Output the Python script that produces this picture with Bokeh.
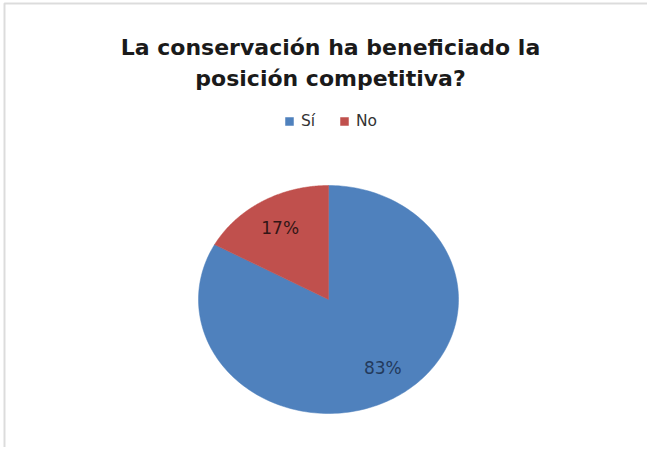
import numpy as np
from bokeh.plotting import figure
from bokeh.models import Range1d, Label, Legend, LegendItem, ColumnDataSource, BoxAnnotation
from bokeh.embed import file_html
from bokeh.resources import INLINE
from bokeh.core.properties import value

categories = ["Sí", "No"]
values = [83, 17]
colors = ["#4F81BD", "#C0504D"]
label_colors = ["#233a5c", "#321616"]
title_lines = ["La conservación ha beneficiado la", "posición competitiva?"]

W, H = 647, 447
cx, cy = 328, 299      # pie centre in px (from left / from top)
rx, ry = 130, 114      # pie radii in px

p = figure(width=W, height=H, output_backend="svg", toolbar_location=None,
           x_range=Range1d(-cx / rx, (W - cx) / rx),
           y_range=Range1d(-(H - cy) / ry, cy / ry),
           x_axis_location=None, y_axis_location=None, min_border=0)
p.grid.visible = False
p.outline_line_color = None
p.background_fill_color = "white"
p.border_fill_color = "white"

# chart-area border (top and left edges visible)
p.add_layout(BoxAnnotation(left=4, right=5000, top=H - 3, bottom=-5000,
                           left_units="screen", right_units="screen",
                           top_units="screen", bottom_units="screen",
                           fill_alpha=0, line_color="#8c8c8c", line_width=2))

total = float(sum(values))
start = np.pi / 2
items = []
lx, ly, ltxt = [], [], []
for cat, v, col in zip(categories, values, colors):
    end = start - 2 * np.pi * v / total
    t = np.linspace(start, end, 200)
    xs = np.concatenate([[0], np.cos(t), [0]])
    ys = np.concatenate([[0], np.sin(t), [0]])
    r = p.patch(xs, ys, fill_color=col, line_color=col, line_width=0.5)
    items.append(LegendItem(label=cat, renderers=[r]))
    mid = (start + end) / 2
    lx.append(0.73 * np.cos(mid))
    ly.append(0.73 * np.sin(mid))
    ltxt.append(f"{round(100 * v / total)}%")
    start = end

src = ColumnDataSource(dict(x=lx, y=ly, text=ltxt, color=label_colors, dx=[6, 0], dy=[-3, 0]))
p.text(x="x", y="y", text="text", source=src, text_color="color",
       x_offset="dx", y_offset="dy",
       text_font=value("DejaVu Sans"), text_font_size="17px",
       text_align="center", text_baseline="middle")

title_baselines = [47, 78]
for line, b in zip(title_lines, title_baselines):
    p.add_layout(Label(x=330, y=H - b, x_units="screen", y_units="screen",
                       text=line, text_align="center", text_baseline="alphabetic",
                       text_font="DejaVu Sans", text_font_style="bold",
                       text_font_size="22px", text_color="#1a1a1a"))

legend = Legend(items=items, orientation="horizontal", location=(284, 317),
                glyph_width=10, glyph_height=10, label_standoff=7, spacing=18,
                label_text_font="DejaVu Sans", label_text_font_size="15.5px",
                label_text_color="#333333", border_line_color=None,
                background_fill_alpha=0, padding=0, margin=0)
p.add_layout(legend, "center")

open("out.html", "w").write(file_html(p, INLINE))
